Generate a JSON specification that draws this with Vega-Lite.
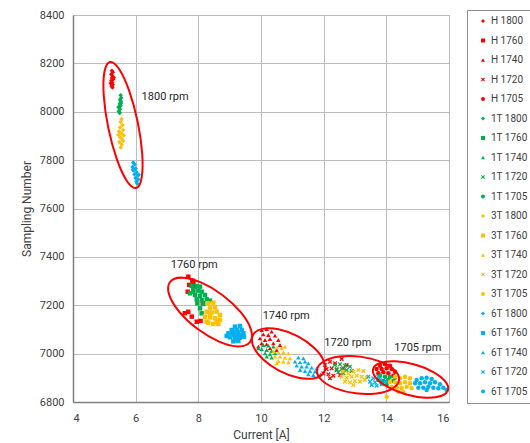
{
 "$schema": "https://vega.github.io/schema/vega-lite/v6.json",
 "width": 376, "height": 387,
 "autosize": {"type": "none"},
 "padding": {"left": 73, "top": 15, "right": 81, "bottom": 41},
 "background": "white",
 "config": {
  "font": "Roboto",
  "view": {"stroke": "#A6A6A6", "strokeWidth": 1},
  "axis": {"gridColor": "#BDBDBD", "gridWidth": 1, "domainColor": "#7F7F7F", "domainWidth": 1.5, "ticks": false, "labelFont": "Roboto", "labelFontSize": 11, "labelColor": "#404040", "titleFont": "Roboto", "titleFontSize": 12, "titleFontWeight": "normal", "titleColor": "#404040"},
  "legend": {"title": null, "orient": "none", "legendX": 394, "legendY": -5, "strokeColor": "#8C8C8C", "padding": 6, "rowPadding": 9.5, "labelFont": "Roboto", "labelFontSize": 10, "labelColor": "#404040", "symbolSize": 16, "symbolStrokeWidth": 0, "symbolOffset": 5, "labelOffset": 3, "labelLimit": 60}
 },
 "datasets": {
  "pts": [
   {"s":"H 1800","x":5.24,"y":8170},{"s":"H 1800","x":5.27,"y":8163},{"s":"H 1800","x":5.22,"y":8155},{"s":"H 1800","x":5.26,"y":8148},{"s":"H 1800","x":5.24,"y":8140},{"s":"H 1800","x":5.28,"y":8133},{"s":"H 1800","x":5.22,"y":8128},{"s":"H 1800","x":5.25,"y":8120},{"s":"H 1800","x":5.27,"y":8112},{"s":"H 1800","x":5.23,"y":8106},{"s":"H 1800","x":5.26,"y":8100},{"s":"H 1800","x":5.30,"y":8142},{"s":"H 1800","x":5.20,"y":8118},
   {"s":"H 1760","x":7.68,"y":7318},{"s":"H 1760","x":7.84,"y":7293},{"s":"H 1760","x":7.71,"y":7284},{"s":"H 1760","x":7.66,"y":7256},{"s":"H 1760","x":7.89,"y":7277},{"s":"H 1760","x":7.81,"y":7302},{"s":"H 1760","x":7.57,"y":7167},{"s":"H 1760","x":7.68,"y":7173},{"s":"H 1760","x":7.79,"y":7153},{"s":"H 1760","x":7.95,"y":7132},{"s":"H 1760","x":8.07,"y":7135},{"s":"H 1760","x":8.14,"y":7208},
   {"s":"H 1740","x":10.021,"y":7097.7},{"s":"H 1740","x":10.181,"y":7101.8},{"s":"H 1740","x":10.34,"y":7090.8},{"s":"H 1740","x":10.074,"y":7079.8},{"s":"H 1740","x":10.234,"y":7077},{"s":"H 1740","x":10.446,"y":7074.3},{"s":"H 1740","x":9.968,"y":7063.2},{"s":"H 1740","x":10.128,"y":7056.4},{"s":"H 1740","x":10.287,"y":7060.5},{"s":"H 1740","x":10.553,"y":7056.4},{"s":"H 1740","x":10.021,"y":7042.6},{"s":"H 1740","x":10.181,"y":7038.4},{"s":"H 1740","x":10.394,"y":7042.6},{"s":"H 1740","x":10.606,"y":7035.7},{"s":"H 1740","x":9.915,"y":7028.8},{"s":"H 1740","x":10.287,"y":7021.9},{"s":"H 1740","x":10.5,"y":7015},
   {"s":"H 1720","x":12.043,"y":6952.9},{"s":"H 1720","x":12.202,"y":6966.7},{"s":"H 1720","x":12.362,"y":6959.8},{"s":"H 1720","x":12.574,"y":6977.7},{"s":"H 1720","x":12.096,"y":6936.4},{"s":"H 1720","x":12.255,"y":6939.1},{"s":"H 1720","x":12.414,"y":6932.2},{"s":"H 1720","x":12.628,"y":6939.1},{"s":"H 1720","x":11.989,"y":6918.5},{"s":"H 1720","x":12.149,"y":6914.4},{"s":"H 1720","x":12.309,"y":6908.8},{"s":"H 1720","x":12.521,"y":6911.6},{"s":"H 1720","x":12.202,"y":6897.8},{"s":"H 1720","x":12.734,"y":6952.9},
   {"s":"H 1705","x":13.798,"y":6950.2},{"s":"H 1705","x":13.957,"y":6955.7},{"s":"H 1705","x":14.117,"y":6950.2},{"s":"H 1705","x":13.691,"y":6936.4},{"s":"H 1705","x":13.851,"y":6936.4},{"s":"H 1705","x":14.011,"y":6939.1},{"s":"H 1705","x":14.17,"y":6936.4},{"s":"H 1705","x":14.276,"y":6925.4},{"s":"H 1705","x":13.745,"y":6918.5},{"s":"H 1705","x":13.904,"y":6922.6},{"s":"H 1705","x":14.064,"y":6918.5},{"s":"H 1705","x":14.223,"y":6908.8},
   {"s":"1T 1800","x":5.52,"y":8068},{"s":"1T 1800","x":5.54,"y":8058},{"s":"1T 1800","x":5.50,"y":8050},{"s":"1T 1800","x":5.53,"y":8042},{"s":"1T 1800","x":5.49,"y":8033},{"s":"1T 1800","x":5.52,"y":8025},{"s":"1T 1800","x":5.47,"y":8017},{"s":"1T 1800","x":5.50,"y":8010},{"s":"1T 1800","x":5.46,"y":8002},{"s":"1T 1800","x":5.49,"y":7995},{"s":"1T 1800","x":5.53,"y":8035},{"s":"1T 1800","x":5.45,"y":8020},
   {"s":"1T 1760","x":7.787,"y":7279.6},{"s":"1T 1760","x":7.947,"y":7279.6},{"s":"1T 1760","x":8.053,"y":7276.9},{"s":"1T 1760","x":7.84,"y":7263.1},{"s":"1T 1760","x":8.0,"y":7260.3},{"s":"1T 1760","x":8.106,"y":7256.2},{"s":"1T 1760","x":7.734,"y":7249.3},{"s":"1T 1760","x":7.894,"y":7242.4},{"s":"1T 1760","x":8.053,"y":7238.3},{"s":"1T 1760","x":8.213,"y":7242.4},{"s":"1T 1760","x":7.947,"y":7224.5},{"s":"1T 1760","x":8.106,"y":7221.7},{"s":"1T 1760","x":8.266,"y":7224.5},{"s":"1T 1760","x":8.372,"y":7219},{"s":"1T 1760","x":8.16,"y":7205.2},{"s":"1T 1760","x":8.053,"y":7187.3},{"s":"1T 1760","x":8.106,"y":7166.6},{"s":"1T 1760","x":7.84,"y":7256.2},{"s":"1T 1760","x":7.968,"y":7208},
   {"s":"1T 1740","x":10.075,"y":7035.7},{"s":"1T 1740","x":10.234,"y":7032.9},{"s":"1T 1740","x":10.394,"y":7028.8},{"s":"1T 1740","x":10.021,"y":7019.1},{"s":"1T 1740","x":10.181,"y":7015},{"s":"1T 1740","x":10.34,"y":7010.9},{"s":"1T 1740","x":10.128,"y":7001.2},{"s":"1T 1740","x":10.287,"y":6997.1},{"s":"1T 1740","x":10.447,"y":7001.2},{"s":"1T 1740","x":10.181,"y":6987.4},{"s":"1T 1740","x":9.915,"y":7021.9},{"s":"1T 1740","x":10.34,"y":6983.3},
   {"s":"1T 1720","x":12.362,"y":6952.9},{"s":"1T 1720","x":12.521,"y":6955.7},{"s":"1T 1720","x":12.681,"y":6950.2},{"s":"1T 1720","x":12.84,"y":6946},{"s":"1T 1720","x":12.415,"y":6936.4},{"s":"1T 1720","x":12.575,"y":6936.4},{"s":"1T 1720","x":12.734,"y":6932.2},{"s":"1T 1720","x":12.894,"y":6928.1},{"s":"1T 1720","x":12.468,"y":6922.6},{"s":"1T 1720","x":12.628,"y":6918.5},
   {"s":"1T 1705","x":13.798,"y":6908.8},{"s":"1T 1705","x":13.957,"y":6904.7},{"s":"1T 1705","x":14.117,"y":6904.7},{"s":"1T 1705","x":14.276,"y":6900.5},{"s":"1T 1705","x":13.745,"y":6890.9},{"s":"1T 1705","x":13.904,"y":6886.8},{"s":"1T 1705","x":14.064,"y":6890.9},{"s":"1T 1705","x":14.223,"y":6886.8},{"s":"1T 1705","x":13.851,"y":6877.1},{"s":"1T 1705","x":14.011,"y":6873},
   {"s":"3T 1800","x":5.55,"y":7970},{"s":"3T 1800","x":5.52,"y":7958},{"s":"3T 1800","x":5.58,"y":7945},{"s":"3T 1800","x":5.50,"y":7935},{"s":"3T 1800","x":5.60,"y":7925},{"s":"3T 1800","x":5.47,"y":7918},{"s":"3T 1800","x":5.55,"y":7910},{"s":"3T 1800","x":5.62,"y":7902},{"s":"3T 1800","x":5.50,"y":7895},{"s":"3T 1800","x":5.57,"y":7885},{"s":"3T 1800","x":5.48,"y":7875},{"s":"3T 1800","x":5.55,"y":7865},{"s":"3T 1800","x":5.52,"y":7852},{"s":"3T 1800","x":5.60,"y":7880},{"s":"3T 1800","x":5.45,"y":7905},
   {"s":"3T 1760","x":8.319,"y":7207.9},{"s":"3T 1760","x":8.479,"y":7210.7},{"s":"3T 1760","x":8.372,"y":7187.3},{"s":"3T 1760","x":8.532,"y":7191.4},{"s":"3T 1760","x":8.266,"y":7173.5},{"s":"3T 1760","x":8.426,"y":7169.4},{"s":"3T 1760","x":8.585,"y":7173.5},{"s":"3T 1760","x":8.691,"y":7159.7},{"s":"3T 1760","x":8.213,"y":7152.8},{"s":"3T 1760","x":8.372,"y":7150.1},{"s":"3T 1760","x":8.532,"y":7146},{"s":"3T 1760","x":8.691,"y":7139},{"s":"3T 1760","x":8.319,"y":7128},{"s":"3T 1760","x":8.479,"y":7122.5},{"s":"3T 1760","x":8.638,"y":7122.5},{"s":"3T 1760","x":8.372,"y":7166.6},{"s":"3T 1760","x":8.585,"y":7132.2},{"s":"3T 1760","x":8.266,"y":7132.2},
   {"s":"3T 1740","x":10.5,"y":7024.7},{"s":"3T 1740","x":10.659,"y":7021.9},{"s":"3T 1740","x":10.766,"y":7028.8},{"s":"3T 1740","x":10.394,"y":7008.1},{"s":"3T 1740","x":10.553,"y":7005.4},{"s":"3T 1740","x":10.713,"y":7005.4},{"s":"3T 1740","x":10.872,"y":7001.2},{"s":"3T 1740","x":10.447,"y":6987.4},{"s":"3T 1740","x":10.606,"y":6987.4},{"s":"3T 1740","x":10.766,"y":6983.3},{"s":"3T 1740","x":10.926,"y":6980.5},{"s":"3T 1740","x":10.553,"y":6969.5},{"s":"3T 1740","x":10.713,"y":6966.8},{"s":"3T 1740","x":10.872,"y":6964},{"s":"3T 1740","x":10.5,"y":6959.9},
   {"s":"3T 1720","x":12.628,"y":6925.4},{"s":"3T 1720","x":12.787,"y":6918.5},{"s":"3T 1720","x":12.947,"y":6925.4},{"s":"3T 1720","x":13.106,"y":6932.2},{"s":"3T 1720","x":13.266,"y":6928.1},{"s":"3T 1720","x":12.574,"y":6904.7},{"s":"3T 1720","x":12.734,"y":6900.5},{"s":"3T 1720","x":12.894,"y":6904.7},{"s":"3T 1720","x":13.053,"y":6908.8},{"s":"3T 1720","x":13.213,"y":6904.7},{"s":"3T 1720","x":13.372,"y":6900.5},{"s":"3T 1720","x":12.681,"y":6884},{"s":"3T 1720","x":12.84,"y":6881.3},{"s":"3T 1720","x":13.0,"y":6886.8},{"s":"3T 1720","x":13.16,"y":6884},{"s":"3T 1720","x":13.319,"y":6890.9},{"s":"3T 1720","x":12.947,"y":6870.2},
   {"s":"3T 1705","x":14.277,"y":6904.7},{"s":"3T 1705","x":14.436,"y":6897.8},{"s":"3T 1705","x":14.596,"y":6904.7},{"s":"3T 1705","x":14.755,"y":6897.8},{"s":"3T 1705","x":14.117,"y":6884},{"s":"3T 1705","x":14.277,"y":6881.3},{"s":"3T 1705","x":14.436,"y":6877.1},{"s":"3T 1705","x":14.596,"y":6881.3},{"s":"3T 1705","x":14.755,"y":6877.1},{"s":"3T 1705","x":14.17,"y":6863.3},{"s":"3T 1705","x":14.33,"y":6859.2},{"s":"3T 1705","x":14.489,"y":6856.4},{"s":"3T 1705","x":14.649,"y":6863.3},{"s":"3T 1705","x":14.383,"y":6842.7},{"s":"3T 1705","x":14.542,"y":6839.9},{"s":"3T 1705","x":14.011,"y":6822},{"s":"3T 1705","x":14.809,"y":6856.4},
   {"s":"6T 1800","x":5.92,"y":7790},{"s":"6T 1800","x":5.97,"y":7782},{"s":"6T 1800","x":5.90,"y":7772},{"s":"6T 1800","x":6.00,"y":7765},{"s":"6T 1800","x":5.94,"y":7758},{"s":"6T 1800","x":6.03,"y":7750},{"s":"6T 1800","x":5.96,"y":7742},{"s":"6T 1800","x":6.06,"y":7735},{"s":"6T 1800","x":5.99,"y":7726},{"s":"6T 1800","x":6.08,"y":7720},{"s":"6T 1800","x":6.02,"y":7712},{"s":"6T 1800","x":6.05,"y":7703},{"s":"6T 1800","x":5.91,"y":7760},{"s":"6T 1800","x":6.10,"y":7740},
   {"s":"6T 1760","x":9.17,"y":7111.5},{"s":"6T 1760","x":9.33,"y":7114.2},{"s":"6T 1760","x":9.064,"y":7097.7},{"s":"6T 1760","x":9.223,"y":7097.7},{"s":"6T 1760","x":9.383,"y":7097.7},{"s":"6T 1760","x":8.958,"y":7083.9},{"s":"6T 1760","x":9.117,"y":7081.2},{"s":"6T 1760","x":9.276,"y":7081.2},{"s":"6T 1760","x":9.436,"y":7083.9},{"s":"6T 1760","x":9.011,"y":7067.4},{"s":"6T 1760","x":9.17,"y":7063.3},{"s":"6T 1760","x":9.33,"y":7066},{"s":"6T 1760","x":9.117,"y":7050.8},{"s":"6T 1760","x":9.276,"y":7052.2},{"s":"6T 1760","x":8.904,"y":7072.9},{"s":"6T 1760","x":9.457,"y":7070.1},{"s":"6T 1760","x":9.09,"y":7090},{"s":"6T 1760","x":9.25,"y":7089},{"s":"6T 1760","x":9.2,"y":7074},{"s":"6T 1760","x":9.04,"y":7076},{"s":"6T 1760","x":9.38,"y":7076},{"s":"6T 1760","x":9.2,"y":7056},
   {"s":"6T 1740","x":11.191,"y":6983.3},{"s":"6T 1740","x":11.351,"y":6980.5},{"s":"6T 1740","x":11.085,"y":6966.8},{"s":"6T 1740","x":11.245,"y":6964},{"s":"6T 1740","x":11.404,"y":6966.8},{"s":"6T 1740","x":11.511,"y":6959.9},{"s":"6T 1740","x":11.138,"y":6950.2},{"s":"6T 1740","x":11.298,"y":6946.1},{"s":"6T 1740","x":11.458,"y":6946.1},{"s":"6T 1740","x":11.617,"y":6942},{"s":"6T 1740","x":11.245,"y":6932.3},{"s":"6T 1740","x":11.404,"y":6928.2},{"s":"6T 1740","x":11.564,"y":6928.2},{"s":"6T 1740","x":11.723,"y":6925.4},{"s":"6T 1740","x":11.511,"y":6914.4},{"s":"6T 1740","x":11.67,"y":6911.6},{"s":"6T 1740","x":11.777,"y":6939.2},{"s":"6T 1740","x":11.9,"y":6915},
   {"s":"6T 1720","x":13.425,"y":6904.7},{"s":"6T 1720","x":13.585,"y":6897.8},{"s":"6T 1720","x":13.479,"y":6884},{"s":"6T 1720","x":13.638,"y":6881.3},{"s":"6T 1720","x":13.798,"y":6890.9},{"s":"6T 1720","x":13.532,"y":6870.2},{"s":"6T 1720","x":13.691,"y":6867.5},{"s":"6T 1720","x":13.851,"y":6873},{"s":"6T 1720","x":13.957,"y":6884},{"s":"6T 1720","x":13.745,"y":6904.7},
   {"s":"6T 1705","x":14.968,"y":6890.9},{"s":"6T 1705","x":15.128,"y":6897.8},{"s":"6T 1705","x":15.287,"y":6900.5},{"s":"6T 1705","x":15.447,"y":6895},{"s":"6T 1705","x":14.915,"y":6877.1},{"s":"6T 1705","x":15.074,"y":6877.1},{"s":"6T 1705","x":15.234,"y":6881.3},{"s":"6T 1705","x":15.394,"y":6877.1},{"s":"6T 1705","x":15.553,"y":6881.3},{"s":"6T 1705","x":15.713,"y":6873},{"s":"6T 1705","x":15.021,"y":6859.2},{"s":"6T 1705","x":15.181,"y":6859.2},{"s":"6T 1705","x":15.34,"y":6863.3},{"s":"6T 1705","x":15.5,"y":6859.2},{"s":"6T 1705","x":15.66,"y":6856.4},{"s":"6T 1705","x":15.819,"y":6859.2},{"s":"6T 1705","x":15.926,"y":6849.6},{"s":"6T 1705","x":15.287,"y":6849.6}
  ],
  "ell": [
   {"e":"1800","i":0,"x":6.011,"y":7684.7},{"e":"1800","i":1,"x":6.189,"y":7726.1},{"e":"1800","i":2,"x":6.209,"y":7825.7},{"e":"1800","i":3,"x":6.065,"y":7957.6},{"e":"1800","i":4,"x":5.794,"y":8086.2},{"e":"1800","i":5,"x":5.471,"y":8176.7},{"e":"1800","i":6,"x":5.181,"y":8205.7},{"e":"1800","i":7,"x":5.002,"y":8164.3},{"e":"1800","i":8,"x":4.983,"y":8064.7},{"e":"1800","i":9,"x":5.127,"y":7932.8},{"e":"1800","i":10,"x":5.398,"y":7804.2},{"e":"1800","i":11,"x":5.72,"y":7713.7},
   {"e":"1760","i":0,"x":9.649,"y":7048.1},{"e":"1760","i":1,"x":9.679,"y":7099.4},{"e":"1760","i":2,"x":9.359,"y":7170.2},{"e":"1760","i":3,"x":8.775,"y":7241.5},{"e":"1760","i":4,"x":8.082,"y":7294.3},{"e":"1760","i":5,"x":7.468,"y":7314.2},{"e":"1760","i":6,"x":7.096,"y":7296.1},{"e":"1760","i":7,"x":7.066,"y":7244.8},{"e":"1760","i":8,"x":7.386,"y":7173.9},{"e":"1760","i":9,"x":7.97,"y":7102.6},{"e":"1760","i":10,"x":8.662,"y":7049.9},{"e":"1760","i":11,"x":9.277,"y":7029.9},
   {"e":"1740","i":0,"x":12.01,"y":6924.1},{"e":"1740","i":1,"x":12.002,"y":6970.1},{"e":"1740","i":2,"x":11.693,"y":7024.2},{"e":"1740","i":3,"x":11.165,"y":7072.0},{"e":"1740","i":4,"x":10.561,"y":7100.6},{"e":"1740","i":5,"x":10.041,"y":7102.4},{"e":"1740","i":6,"x":9.745,"y":7076.9},{"e":"1740","i":7,"x":9.753,"y":7030.9},{"e":"1740","i":8,"x":10.063,"y":6976.8},{"e":"1740","i":9,"x":10.59,"y":6929.0},{"e":"1740","i":10,"x":11.195,"y":6900.4},{"e":"1740","i":11,"x":11.715,"y":6898.6},
   {"e":"1720","i":0,"x":14.405,"y":6890.9},{"e":"1720","i":1,"x":14.265,"y":6931.7},{"e":"1720","i":2,"x":13.812,"y":6967.1},{"e":"1720","i":3,"x":13.167,"y":6987.6},{"e":"1720","i":4,"x":12.503,"y":6987.7},{"e":"1720","i":5,"x":11.998,"y":6967.5},{"e":"1720","i":6,"x":11.787,"y":6932.3},{"e":"1720","i":7,"x":11.927,"y":6891.5},{"e":"1720","i":8,"x":12.379,"y":6856.2},{"e":"1720","i":9,"x":13.024,"y":6835.7},{"e":"1720","i":10,"x":13.689,"y":6835.5},{"e":"1720","i":11,"x":14.193,"y":6855.7},
   {"e":"1705","i":0,"x":15.967,"y":6849.6},{"e":"1705","i":1,"x":15.873,"y":6886.3},{"e":"1705","i":2,"x":15.485,"y":6924.8},{"e":"1705","i":3,"x":14.905,"y":6954.7},{"e":"1705","i":4,"x":14.289,"y":6968.2},{"e":"1705","i":5,"x":13.803,"y":6961.4},{"e":"1705","i":6,"x":13.576,"y":6936.4},{"e":"1705","i":7,"x":13.669,"y":6899.8},{"e":"1705","i":8,"x":14.058,"y":6861.3},{"e":"1705","i":9,"x":14.638,"y":6831.3},{"e":"1705","i":10,"x":15.253,"y":6817.9},{"e":"1705","i":11,"x":15.74,"y":6824.6}
  ],
  "lbl": [
   {"t":"1800 rpm","x":6.19,"y":8062},
   {"t":"1760 rpm","x":7.118,"y":7366},
   {"t":"1740 rpm","x":10.054,"y":7157},
   {"t":"1720 rpm","x":12.02,"y":7043},
   {"t":"1705 rpm","x":14.254,"y":7022}
  ]
 },
 "layer": [
  {
   "data": {"name": "pts"},
   "mark": {"type": "point", "filled": true, "size": 20, "opacity": 1, "strokeWidth": 0},
   "encoding": {
    "x": {"field": "x", "type": "quantitative", "scale": {"domain": [4, 16], "nice": false}, "axis": {"title": "Current [A]", "values": [4, 6, 8, 10, 12, 14, 16], "labelPadding": 10, "titlePadding": 6}},
    "y": {"field": "y", "type": "quantitative", "scale": {"domain": [6800, 8400], "nice": false, "zero": false}, "axis": {"title": "Sampling Number", "values": [6800, 7000, 7200, 7400, 7600, 7800, 8000, 8200, 8400], "format": "d", "labelPadding": 9, "titlePadding": 6}},
    "color": {"field": "s", "type": "nominal",
     "scale": {"domain": ["H 1800","H 1760","H 1740","H 1720","H 1705","1T 1800","1T 1760","1T 1740","1T 1720","1T 1705","3T 1800","3T 1760","3T 1740","3T 1720","3T 1705","6T 1800","6T 1760","6T 1740","6T 1720","6T 1705"],
      "range": ["#FF0000","#FF0000","#FF0000","#FF0000","#FF0000","#00B050","#00B050","#00B050","#00B050","#00B050","#FFC000","#FFC000","#FFC000","#FFC000","#FFC000","#00B0F0","#00B0F0","#00B0F0","#00B0F0","#00B0F0"]},
     "legend": {"title": null}},
    "shape": {"field": "s", "type": "nominal",
     "scale": {"domain": ["H 1800","H 1760","H 1740","H 1720","H 1705","1T 1800","1T 1760","1T 1740","1T 1720","1T 1705","3T 1800","3T 1760","3T 1740","3T 1720","3T 1705","6T 1800","6T 1760","6T 1740","6T 1720","6T 1705"],
      "range": ["diamond","square","triangle-up","M-1,-0.6L-0.6,-1L0,-0.4L0.6,-1L1,-0.6L0.4,0L1,0.6L0.6,1L0,0.4L-0.6,1L-1,0.6L-0.4,0Z","circle","diamond","square","triangle-up","M-1,-0.6L-0.6,-1L0,-0.4L0.6,-1L1,-0.6L0.4,0L1,0.6L0.6,1L0,0.4L-0.6,1L-1,0.6L-0.4,0Z","circle","diamond","square","triangle-up","M-1,-0.6L-0.6,-1L0,-0.4L0.6,-1L1,-0.6L0.4,0L1,0.6L0.6,1L0,0.4L-0.6,1L-1,0.6L-0.4,0Z","circle","diamond","square","triangle-up","M-1,-0.6L-0.6,-1L0,-0.4L0.6,-1L1,-0.6L0.4,0L1,0.6L0.6,1L0,0.4L-0.6,1L-1,0.6L-0.4,0Z","circle"]},
     "legend": {"title": null}}
   }
  },
  {
   "data": {"name": "ell"},
   "mark": {"type": "line", "interpolate": "cardinal-closed", "color": "#FF0000", "strokeWidth": 2},
   "encoding": {
    "x": {"field": "x", "type": "quantitative"},
    "y": {"field": "y", "type": "quantitative"},
    "detail": {"field": "e", "type": "nominal"},
    "order": {"field": "i", "type": "quantitative"}
   }
  },
  {
   "data": {"name": "lbl"},
   "mark": {"type": "text", "align": "left", "baseline": "middle", "fontSize": 11, "font": "Roboto", "color": "#262626"},
   "encoding": {
    "x": {"field": "x", "type": "quantitative"},
    "y": {"field": "y", "type": "quantitative"},
    "text": {"field": "t", "type": "nominal"}
   }
  }
 ]
}
